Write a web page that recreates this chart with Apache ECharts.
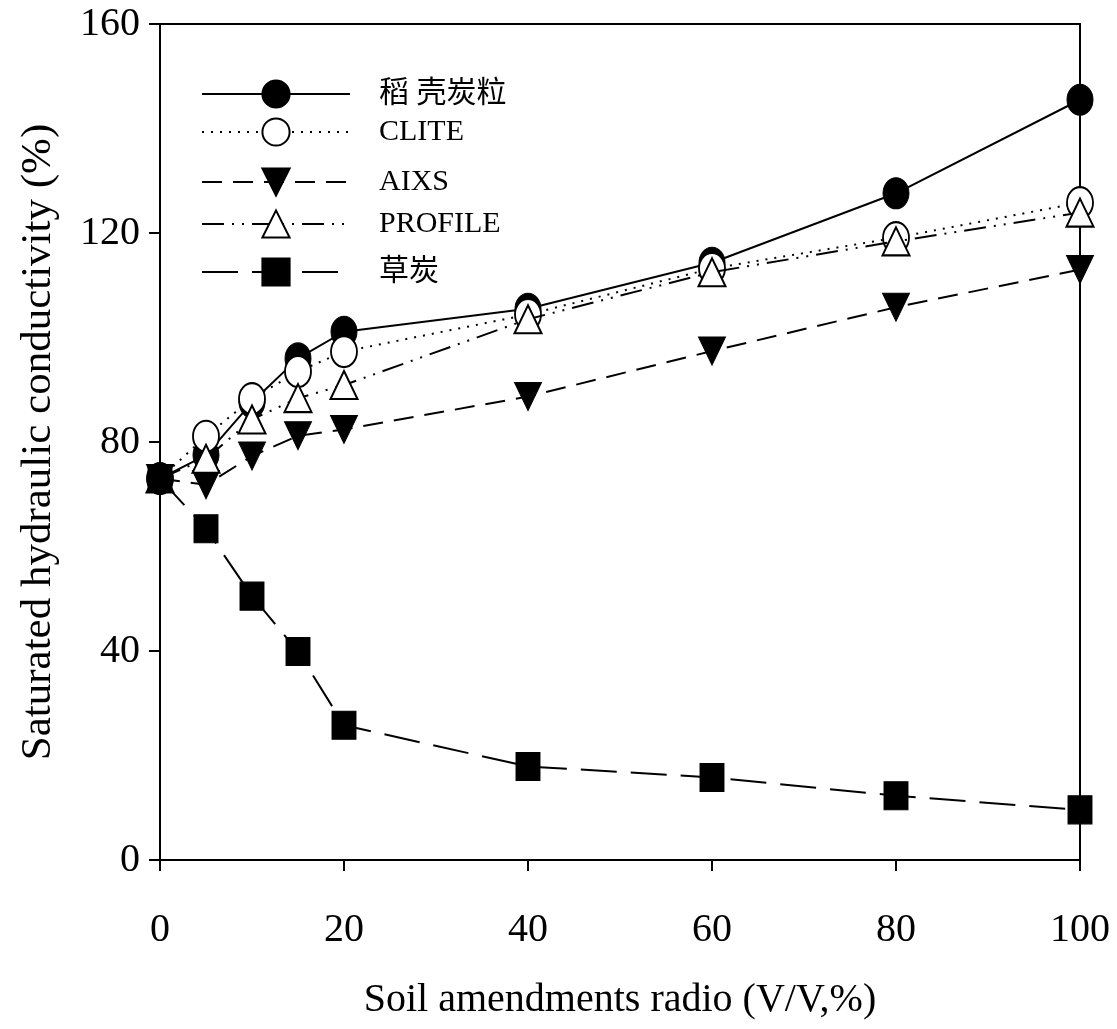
<!DOCTYPE html>
<html>
<head>
<meta charset="utf-8">
<script src="https://cdn.jsdelivr.net/npm/echarts@6/dist/echarts.min.js"></script>
<style>
  html, body { margin: 0; padding: 0; background: #fff; }
  #main { width: 1117px; height: 1029px; }
</style>
</head>
<body>
<div id="main"></div>
<script>
// 改良剂比例 (V/V,%)
var ratios = [0, 5, 10, 15, 20, 40, 60, 80, 100];

// 各改良剂的饱和导水率 (%)
var daoke = [73, 77.5, 87.6, 96.0, 101.1, 105.5, 114.3, 127.6, 145.5];
var clite = [73, 81.1, 88.3, 93.5, 97.3, 104.4, 113.2, 119.1, 125.8];
var aixs = [73, 71.8, 77.3, 81.2, 82.4, 88.7, 97.4, 105.8, 113.0];
var profile = [73, 76.8, 84.3, 88.4, 90.9, 103.5, 112.5, 118.4, 123.9];
var caotan = [73, 63.4, 50.5, 39.9, 25.8, 17.9, 15.8, 12.3, 9.6];

var seriesNames = ['稻 壳炭粒', 'CLITE', 'AIXS', 'PROFILE', '草炭'];

var fontFamily = '"Liberation Serif", "Times New Roman", "Noto Sans CJK SC", serif';

function pairs(ys) {
    return ratios.map(function (x, i) { return [x, ys[i]]; });
}

var myChart = echarts.init(document.getElementById('main'));

// 每个图例单独放置, 以便对齐原图的行距
var legendTops = [74, 112, 162, 204, 252];
var legends = seriesNames.map(function (name, i) {
    return {
        data: [name],
        left: 196,
        top: legendTops[i],
        orient: 'vertical',
        itemWidth: 148,
        itemHeight: 34,
        itemGap: 0,
        selectedMode: false,
        textStyle: {
            fontFamily: fontFamily,
            fontSize: 30,
            color: '#000',
            padding: [0, 0, 0, 24]
        }
    };
});

var option = {
    animation: false,
    backgroundColor: '#fff',
    legend: legends,
    grid: {
        left: 160,
        right: 37,
        top: 24,
        bottom: 169,
        show: true,
        borderColor: '#000',
        borderWidth: 2
    },
    xAxis: {
        type: 'value',
        min: 0,
        max: 100,
        interval: 20,
        name: 'Soil amendments radio (V/V,%)',
        nameLocation: 'middle',
        nameGap: 120,
        nameTextStyle: { fontFamily: fontFamily, fontSize: 40, color: '#000' },
        axisLine: { lineStyle: { color: '#000', width: 2 } },
        axisTick: { length: 11, lineStyle: { color: '#000', width: 2 } },
        axisLabel: { margin: 50, fontFamily: fontFamily, fontSize: 40, color: '#000' },
        splitLine: { show: false }
    },
    yAxis: {
        type: 'value',
        min: 0,
        max: 160,
        interval: 40,
        name: 'Saturated hydraulic conductivity (%)',
        nameLocation: 'middle',
        nameGap: 100,
        nameTextStyle: { fontFamily: fontFamily, fontSize: 43, color: '#000' },
        axisLine: { lineStyle: { color: '#000', width: 2 } },
        axisTick: { length: 11, lineStyle: { color: '#000', width: 2 } },
        axisLabel: { margin: 20, fontFamily: fontFamily, fontSize: 40, color: '#000' },
        splitLine: { show: false }
    },
    series: [
        {
            name: seriesNames[0],
            type: 'line',
            data: pairs(daoke),
            symbol: 'circle',
            symbolSize: [26, 31],
            lineStyle: { color: '#000', width: 2, type: 'solid' },
            itemStyle: { color: '#000', borderColor: '#000', borderWidth: 1 },
            z: 2
        },
        {
            name: seriesNames[1],
            type: 'line',
            data: pairs(clite),
            symbol: 'circle',
            symbolSize: [26, 31],
            lineStyle: { color: '#000', width: 2, type: [2, 7] },
            itemStyle: { color: '#fff', borderColor: '#000', borderWidth: 2 },
            z: 3
        },
        {
            name: seriesNames[2],
            type: 'line',
            data: pairs(aixs),
            symbol: 'triangle',
            symbolRotate: 180,
            symbolSize: [27, 28],
            lineStyle: { color: '#000', width: 2, type: [20, 11] },
            itemStyle: { color: '#000', borderColor: '#000', borderWidth: 1 },
            z: 4
        },
        {
            name: seriesNames[3],
            type: 'line',
            data: pairs(profile),
            symbol: 'triangle',
            symbolSize: [27, 28],
            lineStyle: { color: '#000', width: 2, type: [22, 8, 2, 8, 2, 8] },
            itemStyle: { color: '#fff', borderColor: '#000', borderWidth: 2 },
            z: 5
        },
        {
            name: seriesNames[4],
            type: 'line',
            data: pairs(caotan),
            symbol: 'rect',
            symbolSize: [24, 28],
            lineStyle: { color: '#000', width: 2, type: [36, 14] },
            itemStyle: { color: '#000', borderColor: '#000', borderWidth: 1 },
            z: 6
        }
    ]
};

myChart.setOption(option);
</script>
</body>
</html>
